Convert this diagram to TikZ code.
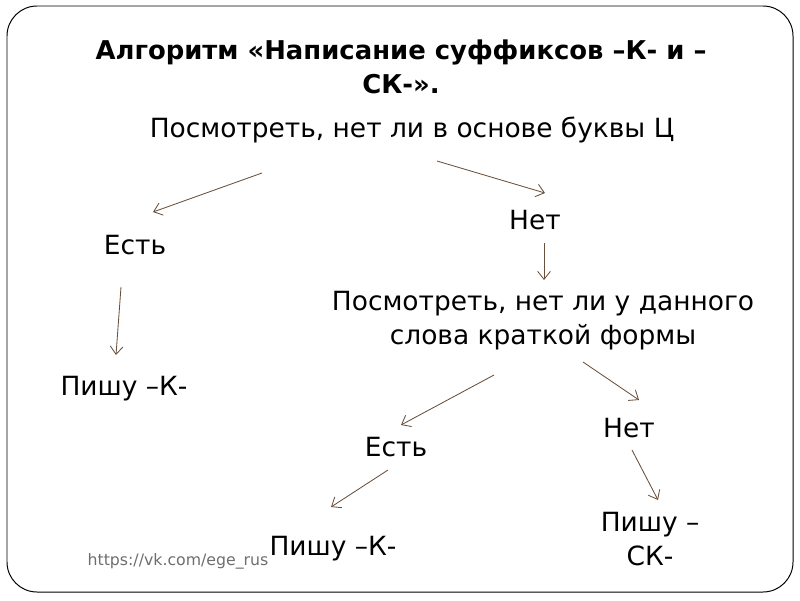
\documentclass[tikz,border=0pt]{standalone}
\usepackage{fontspec}
\setmainfont{DejaVu Sans}
\usetikzlibrary{arrows.meta}

\definecolor{arrbrown}{RGB}{105,80,60}
\definecolor{urlgray}{RGB}{110,110,110}

\tikzset{
  txt/.style={anchor=base, align=center, font=\fontsize{18.8}{23.5}\selectfont},
  arr/.style={draw=arrbrown, line width=0.6pt, -{Straight Barb[length=2mm,width=3.2mm]}}
}

\begin{document}
\begin{tikzpicture}[x=0.025cm, y=-0.025cm]
    % Рамка
    \useasboundingbox (0,0) rectangle (800,600);
    \draw[line width=0.7pt, rounded corners=0.75cm] (7,6) rectangle (793,592);

    % Заголовок (для многострочных узлов base -- последняя строка)
    \node[txt, font=\fontsize{18.4}{23.5}\selectfont\bfseries] (title) at (401,93)
        {Алгоритм «Написание суффиксов –К- и –\\СК-».};
    \node[txt] (look1) at (412,137) {Посмотреть, нет ли в основе буквы Ц};

    % Первая ветка
    \node[txt] (yes1) at (135,254) {Есть};
    \node[txt] (no1) at (535,229) {Нет};
    \node[txt] (write1) at (124,395) {Пишу –К-};
    \node[txt] (look2) at (543,344) {Посмотреть, нет ли у данного\\слова краткой формы};

    % Вторая ветка
    \node[txt] (yes2) at (396,456) {Есть};
    \node[txt] (no2) at (629,437) {Нет};
    \node[txt] (write2) at (333,555) {Пишу –К-};
    \node[txt] (write3) at (650,565) {Пишу –\\СК-};

    \node[anchor=base, text=urlgray, font=\fontsize{11.2}{13}\selectfont] (url) at (178,565) {https://vk.com/ege\_rus};

    % Концы стрелок
    \coordinate (a1) at (262,173); \coordinate (b1) at (153,212);
    \coordinate (a2) at (437,161); \coordinate (b2) at (545,193);
    \coordinate (a3) at (544,243); \coordinate (b3) at (544,280);
    \coordinate (a4) at (121,287); \coordinate (b4) at (116,355);
    \coordinate (a5) at (494,375); \coordinate (b5) at (401,425);
    \coordinate (a6) at (583,362); \coordinate (b6) at (639,400);
    \coordinate (a7) at (388,470); \coordinate (b7) at (331,507);
    \coordinate (a8) at (632,450); \coordinate (b8) at (658,500);

    % Стрелки
    \foreach \i in {1,...,8}
        \draw[arr] (a\i) -- (b\i);
\end{tikzpicture}
\end{document}
